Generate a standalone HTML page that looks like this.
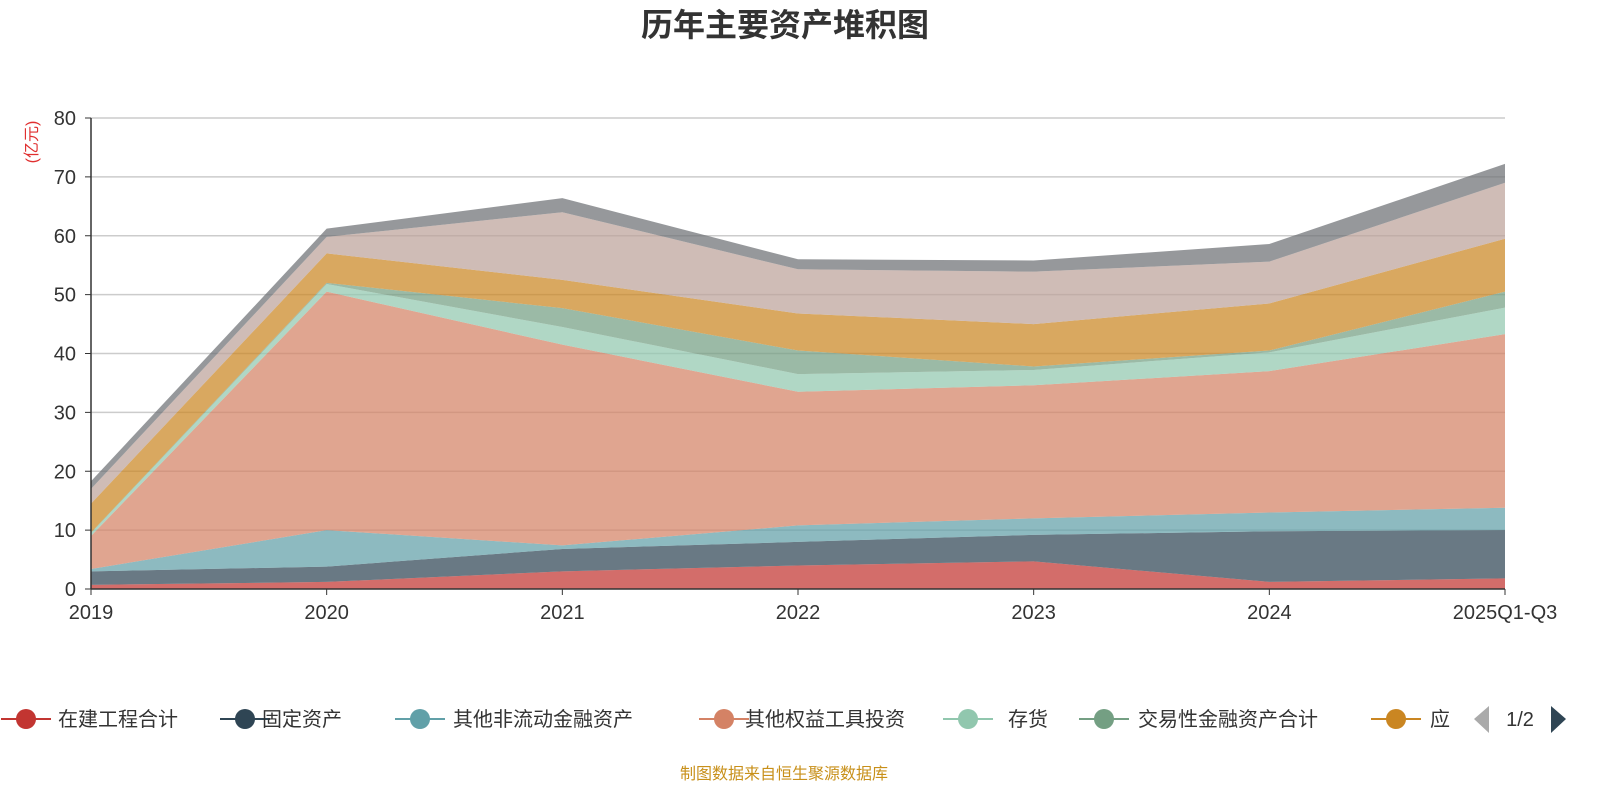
<!DOCTYPE html>
<html><head><meta charset="utf-8">
<style>
body{margin:0;width:1600px;height:800px;background:#fff;overflow:hidden;font-family:"Liberation Sans","Noto Sans CJK SC",sans-serif;}
</style></head>
<body>
<svg id="chart" width="1600" height="800" xmlns="http://www.w3.org/2000/svg" font-family="Liberation Sans, Noto Sans CJK SC, sans-serif">
<text x="785" y="36" text-anchor="middle" font-size="32" font-weight="bold" fill="#333">历年主要资产堆积图</text>
<text transform="translate(37,142) rotate(-90)" text-anchor="middle" font-size="16" fill="#e03030">(亿元)</text>
<g id="grid"></g><g id="areas"></g><g id="axes"></g>
<g id="legend"></g>
<text x="784" y="779" text-anchor="middle" font-size="16" fill="#c8901a">制图数据来自恒生聚源数据库</text>
</svg>
<script>
const categories=["2019","2020","2021","2022","2023","2024","2025Q1-Q3"];
const yTicks=[0,10,20,30,40,50,60,70,80];
const seriesNames=["在建工程合计","固定资产","其他非流动金融资产","其他权益工具投资","存货","交易性金融资产合计","应收账款","其他","其他资产"];
const s1=[0.7,1.2,3.0,4.0,4.7,1.2,1.8];
const s2=[2.3,2.6,3.8,4.0,4.5,8.6,8.2];
const s3=[0.4,6.2,0.6,2.8,2.8,3.2,3.8];
const s4=[5.6,40.5,34.1,22.7,22.6,24.0,29.5];
const s5=[0.5,1.3,3.0,3.0,2.6,3.2,4.5];
const s6=[0.1,0.2,3.2,4.0,0.6,0.3,2.7];
const s7=[4.9,5.0,4.8,6.3,7.2,8.0,9.0];
const s8=[2.5,2.8,11.5,7.5,8.9,7.1,9.5];
const s9=[1.3,1.4,2.4,1.7,1.9,3.0,3.2];
const series=[s1,s2,s3,s4,s5,s6,s7,s8,s9];
const colors=["#c23531","#2f4554","#61a0a8","#d48265","#91c7ae","#749f83","#ca8622","#bda29a","#6e7074"];
const X0=91,X1=1505,Y0=589,Y1=118;
const xs=i=>X0+(X1-X0)*i/(categories.length-1);
const ys=v=>Y0-(Y0-Y1)*v/80;
const NS="http://www.w3.org/2000/svg";
function mk(t,a,p){const e=document.createElementNS(NS,t);for(const k in a)e.setAttribute(k,a[k]);p.appendChild(e);return e;}
const grid=document.getElementById('grid'),areas=document.getElementById('areas'),axes=document.getElementById('axes'),leg=document.getElementById('legend');
yTicks.forEach(t=>{
 if(t>0){const l=mk('line',{x1:X0,x2:X1,y1:ys(t),y2:ys(t),stroke:'#ccc','stroke-width':1.5},grid);
 
 }
 const tx=mk('text',{x:X0-15,y:ys(t)+7,'text-anchor':'end','font-size':20,fill:'#333'},axes);tx.textContent=t;
 
 
 mk('line',{x1:X0-6,x2:X0,y1:ys(t),y2:ys(t),stroke:'#333'},axes);
});
let base=categories.map(()=>0);
series.forEach((s,si)=>{
 const top=base.map((b,i)=>b+s[i]);
 let d='M'+top.map((v,i)=>xs(i)+','+ys(v)).join(' L');
 for(let i=base.length-1;i>=0;i--)d+=' L'+xs(i)+','+ys(base[i]);
 const p=mk('path',{d:d+'Z',fill:colors[si],'fill-opacity':0.72},areas);
 
 
 base=top;
});
mk('line',{x1:X0,x2:X0,y1:Y1,y2:Y0,stroke:'#333','stroke-width':1.5},axes);
mk('line',{x1:X0,x2:X1,y1:Y0,y2:Y0,stroke:'#333','stroke-width':1.5},axes);
categories.forEach((c,i)=>{
 mk('line',{x1:xs(i),x2:xs(i),y1:Y0,y2:Y0+6,stroke:'#333'},axes);
 const t=mk('text',{x:xs(i),y:Y0+30,'text-anchor':'middle','font-size':20,fill:'#333'},axes);t.textContent=c;
 
 
});
const lx=[26,245,420,724,968,1104,1396],tx=[58,262,453,745,1008,1138,1430];
const lnames=["在建工程合计","固定资产","其他非流动金融资产","其他权益工具投资","存货","交易性金融资产合计","应"];
lnames.forEach((n,i)=>{
 const g=mk('g',{},leg);
 
 
 mk('line',{x1:lx[i]-25,x2:lx[i]+25,y1:719,y2:719,stroke:colors[i],'stroke-width':2},g);
 mk('circle',{cx:lx[i],cy:719,r:10,fill:colors[i]},g);
 const t=mk('text',{x:tx[i],y:726,'font-size':20,fill:'#333'},g);t.textContent=n;
});
const pa=mk('path',{d:'M1489,706 L1489,733 L1474,719Z',fill:'#aaa'},leg);


const pt=mk('text',{x:1520,y:726,'text-anchor':'middle','font-size':20,fill:'#333'},leg);pt.textContent='1/2';


const na=mk('path',{d:'M1551,706 L1551,733 L1566,719Z',fill:'#2f4554'},leg);


</script>
</body></html>
